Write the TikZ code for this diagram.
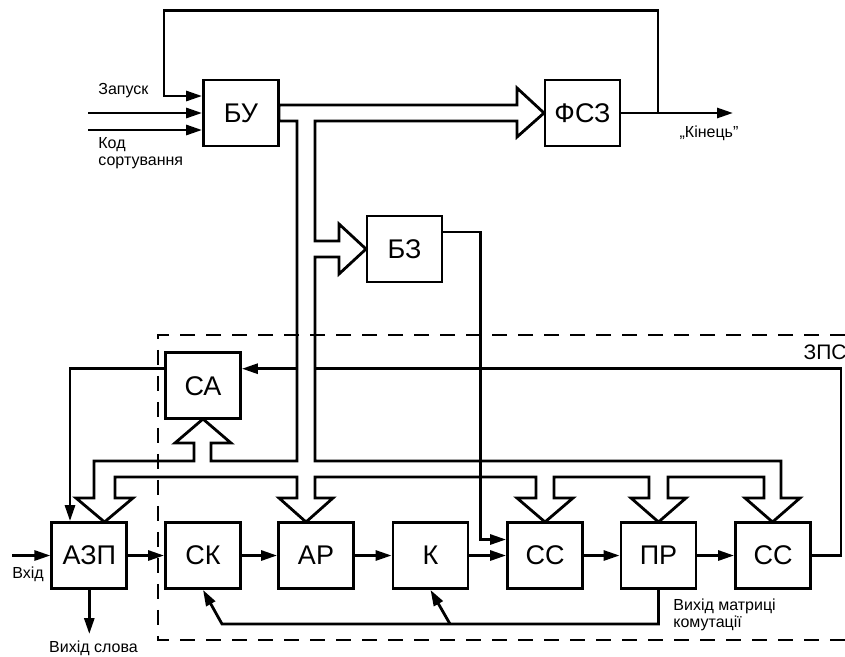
\documentclass[tikz,border=0pt]{standalone}
\usepackage{fontspec}
\setmainfont{Liberation Sans}
\usetikzlibrary{arrows.meta,calc}

\begin{document}
\begin{tikzpicture}[x=1pt,y=-1pt,line width=2.8pt,
	blk/.style={draw,fill=white,minimum width=75pt,minimum height=66pt,inner sep=0pt,font=\fontsize{27}{30}\selectfont},
	arr/.style={-{Triangle[length=16pt,width=10pt]}},
	lbl/.style={font=\fontsize{16}{17}\selectfont,inner sep=0pt}]
	\useasboundingbox (0,0) rectangle (845,656);
	\node[blk] (BU) at (241,113) {БУ};
	\node[blk] (FSZ) at (582.5,113) {ФСЗ};
	\node[blk] (BZ) at (404.5,249) {БЗ};
	\node[blk] (CA) at (203,385.7) {СА};
	\node[blk] (AZP) at (89.3,555.5) {АЗП};
	\node[blk] (CK) at (203,555.5) {СК};
	\node[blk] (AR) at (316,555.5) {АР};
	\node[blk] (K) at (430.5,555.5) {К};
	\node[blk] (CC1) at (545,555.5) {СС};
	\node[blk] (PR) at (658.5,555.5) {ПР};
	\node[blk] (CC2) at (773,555.5) {СС};
	\node[lbl,anchor=west] (zap) at (97,91) {Запуск};
	\node[lbl,anchor=north west,align=left] (kod) at (97,136) {Код\\сортування};
	\node[lbl] (kin) at (709,133) {„Кінець”};
	\node[font=\fontsize{21}{23}\selectfont,inner sep=0pt,anchor=east] (zps) at (848,352) {ЗПС};
	\node[lbl] (vh) at (28,574) {Вхід};
	\node[lbl] (vs) at (93.5,648) {Вихід слова};
	\node[lbl,anchor=north west,align=left] (vm) at (672,597) {Вихід матриці\\комутації};
	\coordinate (in1) at (88,113);
	\coordinate (in2) at (88,130);
	\coordinate (fin) at (733,113);
	\coordinate (loop) at (658,113);
	\coordinate (vin) at (12,555.5);
	\coordinate (vout) at (89.3,634);
	\draw[arr] (CC2.east) -- (841,555.5) |- ([yshift=17pt]CA.east);
	\draw[fill=white] (279,105) -- (517,105) -- (517,88) -- (544,113) -- (517,137) -- (517,121) -- (315,121)
		-- (315,241) -- (339,241) -- (339,224) -- (366,249) -- (339,274) -- (339,257) -- (315,257) -- (315,461)
		-- (781,461) -- (781,498) -- (800,498) -- (772.5,522) -- (745,498) -- (764,498) -- (764,477)
		-- (668,477) -- (668,498) -- (686,498) -- (658.5,522) -- (631,498) -- (649,498) -- (649,477)
		-- (554,477) -- (554,498) -- (573,498) -- (545,522) -- (517,498) -- (536,498) -- (536,477)
		-- (315,477) -- (315,498) -- (333,498) -- (306,522) -- (279,498) -- (297,498) -- (297,477)
		-- (115,477) -- (115,498) -- (133,498) -- (104.5,522) -- (76,498) -- (94,498) -- (94,461)
		-- (194,461) -- (194,443) -- (175,443) -- (203,419) -- (231,443) -- (211,443) -- (211,461)
		-- (297,461) -- (297,121) -- (279,121) -- cycle;
	\draw[line width=2pt,dash pattern=on 15pt off 11pt] (845,334.5) -| (158.3,640) -- (845,640);
	\draw[arr] (FSZ.east) -- (fin);
	\draw[arr] (loop) -- ++(0,-102.3) -| (164,96) -- ([yshift=17pt]BU.west);
	\draw[arr] (in1) -- (BU.west);
	\draw[arr] (in2) -- ([yshift=-17pt]BU.west);
	\draw[arr] ([yshift=17pt]CA.west) -| ([xshift=-19.3pt]AZP.north);
	\draw[arr] ([yshift=17pt]BZ.east) -- ++(37,0) |- ([yshift=16pt]CC1.west);
	\foreach \a/\b in {AZP/CK,CK/AR,AR/K,K/CC1,CC1/PR,PR/CC2}
		\draw[arr] (\a) -- (\b);
	\draw[arr] (vin) -- (AZP);
	\draw[arr] (AZP.south) -- (vout);
	\draw[arr] (PR.south) |- (222,624) -- (CK.south);
	\draw[arr] (450,624) -- (K.south);
\end{tikzpicture}
\end{document}
